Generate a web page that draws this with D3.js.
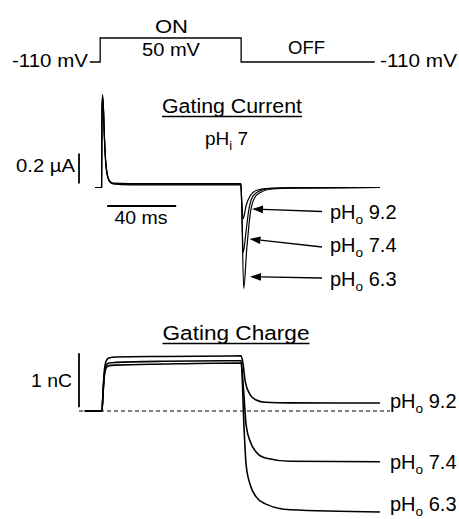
<!DOCTYPE html>
<html>
<head>
<meta charset="utf-8">
<script src="https://cdn.jsdelivr.net/npm/d3@7"></script>
<style>
  html, body { margin: 0; padding: 0; background: #fff; }
  svg { display: block; }
  text { font-family: "Liberation Sans", Arial, Helvetica, sans-serif; fill: #000; }
</style>
</head>
<body>
<svg id="chart" width="459" height="519"></svg>
<script>
// ---------------- DATA ----------------
// Voltage protocol (time in ms, membrane potential in mV)
const protocolTime = [-3, 3, 3, 84.6, 84.6, 162];
const protocolMV   = [-110, -110, 50, 50, -110, -110];

// Gating current traces (time in ms, current in µA), one per external pH
const phLabels = ["9.2", "7.4", "6.3"];
const currentTime = [
  [0, 3.8, 4.0, 4.3, 4.8, 5.4, 6.2, 7.2, 8.5, 10.5, 20, 84.5, 84.9, 85.8, 87.5, 89.9, 93.3, 98.6, 110, 165],
  [0, 3.8, 4.0, 4.3, 4.8, 5.4, 6.2, 7.2, 8.5, 10.5, 20, 84.5, 84.9, 85.8, 87.5, 89.0, 91.0, 94.5, 100.3, 115, 165],
  [0, 3.8, 4.0, 4.3, 4.8, 5.4, 6.2, 7.2, 8.5, 10.5, 20, 84.5, 84.9, 86.1, 87.8, 89.9, 92.2, 95.7, 102.6, 120, 165]
];
const currentUA = [
  [0, 0, 0.44, 0.60, 0.54, 0.34, 0.16, 0.075, 0.038, 0.024, 0.018, 0.018, -0.08, -0.207, -0.12, -0.053, -0.02, -0.007, -0.002, 0],
  [0, 0, 0.45, 0.61, 0.55, 0.35, 0.17, 0.08, 0.04, 0.026, 0.022, 0.022, -0.10, -0.433, -0.287, -0.153, -0.067, -0.027, -0.007, -0.002, 0],
  [0, 0, 0.46, 0.62, 0.56, 0.36, 0.18, 0.085, 0.043, 0.029, 0.026, 0.026, -0.10, -0.673, -0.42, -0.173, -0.073, -0.033, -0.010, -0.002, 0]
];

// Gating charge traces (time in ms, charge in nC)
const chargeTime = [
  [-6, 4.0, 4.8, 5.6, 6.5, 8, 12, 40, 84.6, 85.8, 87.0, 89.9, 93.3, 98.6, 113, 165],
  [-6, 4.0, 4.8, 5.6, 6.5, 8, 12, 40, 84.6, 85.8, 87.5, 89.9, 93.3, 98.6, 113, 165],
  [-6, 4.0, 4.8, 5.6, 6.5, 8, 12, 40, 84.6, 86.4, 87.5, 89.9, 93.3, 98.6, 113, 165]
];
const chargeNC = [
  [0, 0, 0.45, 0.80, 0.93, 0.98, 1.00, 1.01, 1.02, 0.85, 0.54, 0.30, 0.204, 0.161, 0.15, 0.148],
  [0, 0, 0.42, 0.74, 0.85, 0.89, 0.90, 0.92, 0.93, 0.48, -0.26, -0.57, -0.76, -0.87, -0.93, -0.94],
  [0, 0, 0.40, 0.70, 0.80, 0.84, 0.85, 0.87, 0.89, -0.39, -1.00, -1.37, -1.59, -1.72, -1.83, -1.87]
];

// Scale bar values
const currentBarUA = 0.2;
const timeBarMs = 40;
const chargeBarNC = 1;

// ---------------- SCALES ----------------
const svg = d3.select("#chart");
const x = d3.scaleLinear().domain([0, 165]).range([95, 380]);
const yV = d3.scaleLinear().domain([-110, 50]).range([62, 38]);
const yI = d3.scaleLinear().domain([0, 0.2]).range([187.5, 157.5]);
const yQ = d3.scaleLinear().domain([0, 1]).range([411, 357]);

const lineV = d3.line().x(d => x(d[0])).y(d => yV(d[1]));
const lineI = d3.line().x(d => x(d[0])).y(d => yI(d[1])).curve(d3.curveMonotoneX);
const lineQ = d3.line().x(d => x(d[0])).y(d => yQ(d[1])).curve(d3.curveMonotoneX);

const font = 18.5;

function txt(g, cx, by, s, size, width, anchor) {
  const t = g.append("text").attr("x", cx).attr("y", by)
    .attr("text-anchor", anchor || "middle").attr("font-size", size).text(s);
  if (width) t.attr("textLength", width).attr("lengthAdjust", "spacingAndGlyphs");
  return t;
}

function subLabel(g, px, py, main, sub, rest, size) {
  const t = g.append("text").attr("x", px).attr("y", py).attr("font-size", size);
  t.append("tspan").text(main);
  t.append("tspan").attr("font-size", size * 0.68).attr("dy", 5).text(sub);
  t.append("tspan").attr("dy", -5).text(rest);
  return t;
}

// ---------------- PROTOCOL ----------------
const gP = svg.append("g");
gP.append("path")
  .datum(protocolTime.map((t, i) => [t, protocolMV[i]]))
  .attr("d", lineV)
  .attr("fill", "none").attr("stroke", "#000").attr("stroke-width", 1.3);
txt(gP, 50, 67, "-110 mV", font, 76);
txt(gP, 418.5, 67, "-110 mV", font, 77);
txt(gP, 171.5, 33, "ON", font + 0.5, 33);
txt(gP, 171, 55.5, "50 mV", font, 58);
txt(gP, 306.5, 54, "OFF", font + 0.5, 37);

// ---------------- GATING CURRENT ----------------
const gI = svg.append("g");
function title(g, cx, by, s, width) {
  const t = txt(g, cx, by, s, 20, width);
  g.append("line").attr("x1", cx - width / 2).attr("x2", cx + width / 2)
    .attr("y1", by + 3.5).attr("y2", by + 3.5).attr("stroke", "#000").attr("stroke-width", 1.3);
}
title(gI, 232, 113, "Gating Current", 140);
subLabel(gI, 205, 145, "pH", "i", " 7", 19);

currentTime.forEach((ts, k) => {
  gI.append("path")
    .datum(ts.map((t, i) => [t, currentUA[k][i]]))
    .attr("d", lineI)
    .attr("fill", "none").attr("stroke", "#000").attr("stroke-width", 1.2);
});

// scale bars
gI.append("line").attr("x1", 79).attr("x2", 79)
  .attr("y1", 183.5).attr("y2", 183.5 - (yI(0) - yI(currentBarUA)))
  .attr("stroke", "#000").attr("stroke-width", 1.8);
txt(gI, 45.5, 172, "0.2 \u00b5A", font, 59);
gI.append("line").attr("x1", x(7)).attr("x2", x(7 + timeBarMs))
  .attr("y1", 206).attr("y2", 206).attr("stroke", "#000").attr("stroke-width", 1.8);
txt(gI, 141, 223.5, "40 ms", font, 53);

// arrows
const arrowTail = [[322, 211.5], [322, 247], [322, 278]];
const arrowTip = [[252, 209], [249.5, 239], [250, 276.7]];
const arrowLabelY = [218.5, 252, 286];
phLabels.forEach((p, k) => {
  const [x1, y1] = arrowTail[k], [x2, y2] = arrowTip[k];
  const ang = Math.atan2(y2 - y1, x2 - x1);
  const L = 11, W = 3.8;
  const bx = x2 - L * Math.cos(ang), by = y2 - L * Math.sin(ang);
  gI.append("line").attr("x1", x1).attr("y1", y1).attr("x2", bx).attr("y2", by)
    .attr("stroke", "#000").attr("stroke-width", 1.3);
  const px = -Math.sin(ang), py = Math.cos(ang);
  gI.append("path")
    .attr("d", `M${x2},${y2}L${bx + W * px},${by + W * py}L${bx - W * px},${by - W * py}Z`)
    .attr("fill", "#000");
  subLabel(gI, 330, arrowLabelY[k], "pH", "o", " " + p, 20);
});

// ---------------- GATING CHARGE ----------------
const gQ = svg.append("g");
title(gQ, 236, 340, "Gating Charge", 147);
gQ.append("line").attr("x1", 79).attr("x2", 390).attr("y1", yQ(0)).attr("y2", yQ(0))
  .attr("stroke", "#000").attr("stroke-width", 1).attr("stroke-dasharray", "4,3");
chargeTime.forEach((ts, k) => {
  gQ.append("path")
    .datum(ts.map((t, i) => [t, chargeNC[k][i]]))
    .attr("d", lineQ)
    .attr("fill", "none").attr("stroke", "#000").attr("stroke-width", 1.6);
});
gQ.append("line").attr("x1", 79).attr("x2", 79)
  .attr("y1", 407.3).attr("y2", 407.3 - (yQ(0) - yQ(chargeBarNC)))
  .attr("stroke", "#000").attr("stroke-width", 1.8);
txt(gQ, 51.5, 387, "1 nC", font, 41);
const qLabelY = [407.5, 468.5, 511];
phLabels.forEach((p, k) => {
  subLabel(gQ, 390, qLabelY[k], "pH", "o", " " + p, 20);
});
</script>
</body>
</html>
